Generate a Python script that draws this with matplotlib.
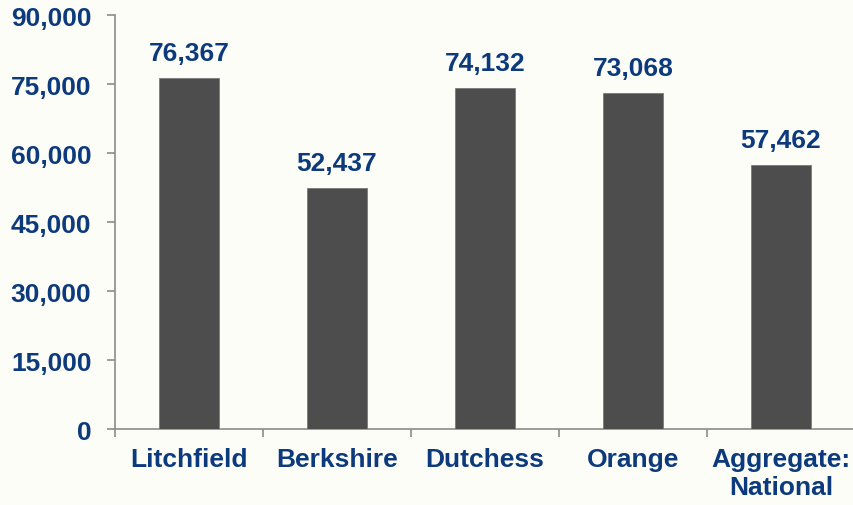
import numpy as np
import matplotlib.pyplot as plt
from matplotlib.ticker import FuncFormatter, FixedLocator

regions = ['Litchfield', 'Berkshire', 'Dutchess', 'Orange', 'Aggregate:\nNational']
values = [76367, 52437, 74132, 73068, 57462]
yticks = [0, 15000, 30000, 45000, 60000, 75000, 90000]

navy = '#0C3A7C'
bar_color = '#4D4D4D'
axis_gray = '#8C8C8C'
bg = '#FDFDF8'

plt.rcParams['font.family'] = ['Liberation Sans', 'DejaVu Sans']
plt.rcParams['font.weight'] = 'bold'

fig = plt.figure(figsize=(8.54, 5.06), dpi=100, facecolor=bg)
ax = fig.add_axes([0.1347, 0.150, 0.8665, 0.818])
ax.set_facecolor(bg)

x = np.arange(len(regions))
bars = ax.bar(x, values, width=0.4, color=bar_color, edgecolor='#7A7A7A', linewidth=0.6, zorder=3)

for b, v in zip(bars, values):
    ax.annotate(f'{v:,}', (b.get_x() + b.get_width() / 2, v),
                xytext=(0, 13), textcoords='offset points',
                ha='center', va='baseline', fontsize=19, fontweight='bold', color=navy)

ax.set_xlim(-0.5, len(regions) - 0.5)
ax.set_ylim(0, 90000)
ax.set_yticks(yticks)
ax.yaxis.set_major_formatter(FuncFormatter(lambda v, p: f'{int(v):,}'))

# category boundaries get the tick marks, centres get the labels
ax.xaxis.set_major_locator(FixedLocator(np.arange(len(regions) + 1) - 0.5))
ax.xaxis.set_major_formatter(FuncFormatter(lambda v, p: ''))
ax.xaxis.set_minor_locator(FixedLocator(x))
ax.set_xticklabels(regions, minor=True)

ax.tick_params(axis='x', which='major', direction='out', length=6, width=1.2, color=axis_gray)
ax.tick_params(axis='x', which='minor', length=0, pad=13, labelsize=19, labelcolor=navy)
ax.tick_params(axis='y', direction='out', length=6, width=1.2, color=axis_gray,
               pad=11, labelsize=19, labelcolor=navy)

for lbl in ax.get_xticklabels(minor=True) + ax.get_yticklabels():
    lbl.set_fontweight('bold')

for side in ['top', 'right']:
    ax.spines[side].set_visible(False)
for side in ['left', 'bottom']:
    ax.spines[side].set_color(axis_gray)
    ax.spines[side].set_linewidth(1.2)

fig.savefig('out.png', dpi=100, facecolor=bg)
